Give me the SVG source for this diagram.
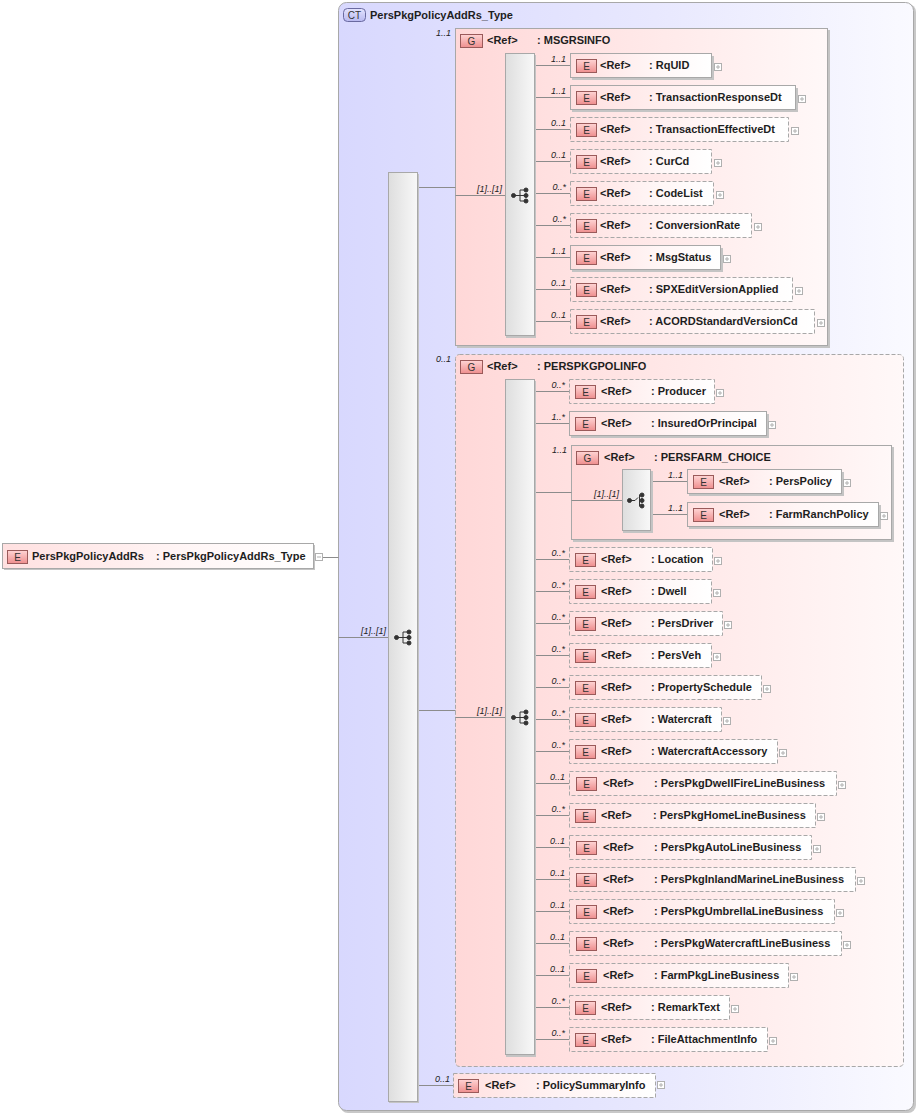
<svg xmlns="http://www.w3.org/2000/svg" width="918" height="1114" viewBox="0 0 918 1114">
<defs>
<linearGradient id="ctG" x1="0" y1="0" x2="1" y2="0"><stop offset="0" stop-color="#d8d8fe"/><stop offset="0.55" stop-color="#e8e8fe"/><stop offset="1" stop-color="#fafaff"/></linearGradient>
<linearGradient id="grpG" x1="0" y1="0" x2="1" y2="0"><stop offset="0" stop-color="#ffd8d8"/><stop offset="1" stop-color="#fff8f8"/></linearGradient>
<linearGradient id="elG" x1="0" y1="0" x2="1" y2="0"><stop offset="0" stop-color="#ffe0e0"/><stop offset="0.6" stop-color="#fff6f6"/><stop offset="1" stop-color="#ffffff"/></linearGradient>
<linearGradient id="barG" x1="0" y1="0" x2="1" y2="0"><stop offset="0" stop-color="#dedede"/><stop offset="1" stop-color="#f8f8f8"/></linearGradient>
<linearGradient id="badgeG" x1="0" y1="0" x2="0" y2="1"><stop offset="0" stop-color="#ffd4d4"/><stop offset="1" stop-color="#ee8e8e"/></linearGradient>
<linearGradient id="ctBadgeG" x1="0" y1="0" x2="0" y2="1"><stop offset="0" stop-color="#e4e4ff"/><stop offset="1" stop-color="#b8b8f0"/></linearGradient>
<g id="seqIcon" fill="#333" stroke="#333" stroke-width="1">
<path d="M-6 0 H0 M0 -5.5 V5.5 M0 -5.5 H6 M0 0 H6 M0 5.5 H6" fill="none"/>
<circle cx="-6.5" cy="0" r="2"/><circle cx="6" cy="-5.5" r="2"/><circle cx="6" cy="0" r="2"/><circle cx="6" cy="5.5" r="2"/>
</g>
<g id="choiceIcon" fill="#333" stroke="#333" stroke-width="1">
<path d="M-6 0 H-1 L2 -3 M3.5 -6 V6" fill="none"/>
<circle cx="-6.5" cy="0" r="2"/><circle cx="6" cy="-5.5" r="2"/><circle cx="6" cy="0" r="2"/><circle cx="6" cy="5.5" r="2"/>
</g>
<g id="plus"><rect x="0" y="0" width="7" height="7" fill="#fff" stroke="#b0b0b0" stroke-width="1"/><path d="M1.5 3.5 H5.5 M3.5 1.5 V5.5" stroke="#b0b0b0" stroke-width="1"/></g>
</defs>
<style>
.t{font-family:"Liberation Sans",Arial,sans-serif;font-size:11px;font-weight:bold;fill:#1e1e1e}
.bt{font-family:"Liberation Sans",Arial,sans-serif;font-size:10px;fill:#333;text-anchor:middle}
.card{font-family:"Liberation Sans",Arial,sans-serif;font-size:9px;font-style:italic;fill:#222;text-anchor:end}
.el{fill:url(#elG);stroke:#a8a8a8;stroke-width:1}
.dash{stroke-dasharray:4 2}
.sh{fill:#c4c4c4}
.badge{fill:url(#badgeG);stroke:#9a5a5a;stroke-width:1}
.grp{fill:url(#grpG);stroke:#a8a8a8;stroke-width:1}
.bar{fill:url(#barG);stroke:#a8a8a8;stroke-width:1}
.ln{stroke:#8c8c8c;stroke-width:1;fill:none}
</style>

<!-- Complex type container -->
<g id="ct-PersPkgPolicyAddRs_Type">
<rect x="340" y="4" width="576" height="1109" rx="8" fill="#c8c8c8"/>
<rect x="338.5" y="2.5" width="575" height="1108" rx="8" fill="url(#ctG)" stroke="#a8a8a8"/>
<rect x="343.5" y="8.5" width="22" height="13" rx="4" fill="url(#ctBadgeG)" stroke="#6a6aa0"/>
<text class="bt" x="354.5" y="19">CT</text>
<text class="t" x="370" y="19">PersPkgPolicyAddRs_Type</text>
</g>

<!-- Group MSGRSINFO -->
<g id="grp-MSGRSINFO">
<rect x="457" y="30" width="373" height="318" class="sh"/>
<rect x="455.5" y="28.5" width="372" height="317" class="grp"/>
<rect x="460.5" y="34.5" width="22" height="13" class="badge"/>
<text class="bt" x="471.5" y="45">G</text>
<text class="t" x="487" y="44">&lt;Ref&gt;</text>
<text class="t" x="537" y="44">: MSGRSINFO</text>
<text class="card" x="451" y="36">1..1</text>
</g>

<!-- Group PERSPKGPOLINFO -->
<g id="grp-PERSPKGPOLINFO">
<rect x="455.5" y="354.5" width="448" height="712" rx="4" class="grp dash"/>
<rect x="460.5" y="360.5" width="22" height="13" class="badge"/>
<text class="bt" x="471.5" y="371">G</text>
<text class="t" x="487" y="370">&lt;Ref&gt;</text>
<text class="t" x="537" y="370">: PERSPKGPOLINFO</text>
<text class="card" x="451" y="362">0..1</text>
</g>

<!-- Group PERSFARM_CHOICE -->
<g id="grp-PERSFARM_CHOICE">
<rect x="573" y="447" width="321" height="95" class="sh"/>
<rect x="571.5" y="445.5" width="320" height="94" class="grp"/>
<rect x="576.5" y="451.5" width="22" height="13" class="badge"/>
<text class="bt" x="587.5" y="462">G</text>
<text class="t" x="604" y="461">&lt;Ref&gt;</text>
<text class="t" x="654" y="461">: PERSFARM_CHOICE</text>
<text class="card" x="567" y="453">1..1</text>
</g>

<!-- Connectors -->
<g id="connectors">
<path class="ln" d="M322.5 557.5 H338.5 M338.5 637.5 H388.5"/>
<path class="ln" d="M418.5 187.5 H455.5 M455.5 195.5 H505.5"/>
<path class="ln" d="M418.5 710.5 H455.5 M455.5 717.5 H505.5"/>
<path class="ln" d="M418.5 1085.5 H453.5"/>
<path class="ln" d="M535.5 65.5 H570 M535.5 97.5 H570 M535.5 129.5 H570 M535.5 161.5 H570 M535.5 193.5 H570 M535.5 225.5 H570 M535.5 257.5 H570 M535.5 289.5 H570 M535.5 321.5 H570"/>
<path class="ln" d="M535.5 391.5 H569 M535.5 423.5 H569 M535.5 492.5 H571.5 M571.5 500.5 H622.5 M535.5 559.5 H569 M535.5 591.5 H569 M535.5 623.5 H569 M535.5 655.5 H569 M535.5 687.5 H569 M535.5 719.5 H569 M535.5 751.5 H569 M535.5 783.5 H569 M535.5 815.5 H569 M535.5 847.5 H569 M535.5 879.5 H569 M535.5 911.5 H569 M535.5 943.5 H569 M535.5 975.5 H569 M535.5 1007.5 H569 M535.5 1039.5 H569"/>
<path class="ln" d="M651.5 481.5 H687 M651.5 514.5 H687"/>
<text class="card" x="386" y="634">[1]..[1]</text>
<text class="card" x="502" y="192">[1]..[1]</text>
<text class="card" x="502" y="714">[1]..[1]</text>
<text class="card" x="619" y="497">[1]..[1]</text>
<text class="card" x="450" y="1082">0..1</text>
</g>

<!-- Sequence / choice compositors -->
<g id="seq-main">
<rect x="389" y="174" width="30" height="929" class="sh"/>
<rect x="388.5" y="172.5" width="29" height="929" class="bar"/>
<use href="#seqIcon" x="403" y="637.5"/>
</g>
<g id="seq-MSGRSINFO">
<rect x="506" y="55" width="30" height="283" class="sh"/>
<rect x="505.5" y="53.5" width="29" height="282" class="bar"/>
<use href="#seqIcon" x="520" y="195.5"/>
</g>
<g id="seq-PERSPKGPOLINFO">
<rect x="506" y="381" width="30" height="676" class="sh"/>
<rect x="505.5" y="379.5" width="29" height="675" class="bar"/>
<use href="#seqIcon" x="520" y="717.5"/>
</g>
<g id="choice-PERSFARM">
<rect x="623" y="471" width="30" height="62" class="sh"/>
<rect x="622.5" y="469.5" width="28" height="61" class="bar"/>
<use href="#choiceIcon" x="636" y="500.5"/>
</g>

<!-- Root element -->
<g id="el-PersPkgPolicyAddRs">
<rect x="4" y="545" width="311" height="25" class="sh"/>
<rect x="2.5" y="543.5" width="311" height="25" class="el"/>
<rect x="7.5" y="550.5" width="20" height="13" class="badge"/>
<text class="bt" x="17.5" y="561">E</text>
<text class="t" x="32" y="560">PersPkgPolicyAddRs</text>
<text class="t" x="156" y="560">: PersPkgPolicyAddRs_Type</text>
<rect x="315.5" y="553.5" width="7" height="7" fill="#fff" stroke="#b0b0b0"/>
<path d="M317 557 H321" stroke="#b0b0b0"/>
</g>

<!-- MSGRSINFO elements -->
<g id="el-RqUID"><rect x="572" y="56" width="142" height="24" class="sh"/><rect x="570.5" y="53.5" width="141" height="24" class="el"/><rect x="576.5" y="59.5" width="20" height="13" class="badge"/><text class="bt" x="586.5" y="70">E</text><text class="t" x="600" y="69">&lt;Ref&gt;</text><text class="t" x="649" y="69">: RqUID</text><use href="#plus" x="714.5" y="63.5"/><text class="card" x="566" y="62">1..1</text></g>
<g id="el-TransactionResponseDt"><rect x="572" y="88" width="226" height="24" class="sh"/><rect x="570.5" y="85.5" width="225" height="24" class="el"/><rect x="576.5" y="91.5" width="20" height="13" class="badge"/><text class="bt" x="586.5" y="102">E</text><text class="t" x="600" y="101">&lt;Ref&gt;</text><text class="t" x="649" y="101">: TransactionResponseDt</text><use href="#plus" x="798.5" y="95.5"/><text class="card" x="566" y="94">1..1</text></g>
<g id="el-TransactionEffectiveDt"><rect x="570.5" y="117.5" width="218" height="24" class="el dash"/><rect x="576.5" y="123.5" width="20" height="13" class="badge"/><text class="bt" x="586.5" y="134">E</text><text class="t" x="600" y="133">&lt;Ref&gt;</text><text class="t" x="649" y="133">: TransactionEffectiveDt</text><use href="#plus" x="791.5" y="127.5"/><text class="card" x="566" y="126">0..1</text></g>
<g id="el-CurCd"><rect x="570.5" y="149.5" width="141" height="24" class="el dash"/><rect x="576.5" y="155.5" width="20" height="13" class="badge"/><text class="bt" x="586.5" y="166">E</text><text class="t" x="600" y="165">&lt;Ref&gt;</text><text class="t" x="649" y="165">: CurCd</text><use href="#plus" x="714.5" y="159.5"/><text class="card" x="566" y="158">0..1</text></g>
<g id="el-CodeList"><rect x="570.5" y="181.5" width="143" height="24" class="el dash"/><rect x="576.5" y="187.5" width="20" height="13" class="badge"/><text class="bt" x="586.5" y="198">E</text><text class="t" x="600" y="197">&lt;Ref&gt;</text><text class="t" x="649" y="197">: CodeList</text><use href="#plus" x="716.5" y="191.5"/><text class="card" x="566" y="190">0..*</text></g>
<g id="el-ConversionRate"><rect x="570.5" y="213.5" width="181" height="24" class="el dash"/><rect x="576.5" y="219.5" width="20" height="13" class="badge"/><text class="bt" x="586.5" y="230">E</text><text class="t" x="600" y="229">&lt;Ref&gt;</text><text class="t" x="649" y="229">: ConversionRate</text><use href="#plus" x="754.5" y="223.5"/><text class="card" x="566" y="222">0..*</text></g>
<g id="el-MsgStatus"><rect x="572" y="248" width="151" height="24" class="sh"/><rect x="570.5" y="245.5" width="150" height="24" class="el"/><rect x="576.5" y="251.5" width="20" height="13" class="badge"/><text class="bt" x="586.5" y="262">E</text><text class="t" x="600" y="261">&lt;Ref&gt;</text><text class="t" x="649" y="261">: MsgStatus</text><use href="#plus" x="723.5" y="255.5"/><text class="card" x="566" y="254">1..1</text></g>
<g id="el-SPXEditVersionApplied"><rect x="570.5" y="277.5" width="222" height="24" class="el dash"/><rect x="576.5" y="283.5" width="20" height="13" class="badge"/><text class="bt" x="586.5" y="294">E</text><text class="t" x="600" y="293">&lt;Ref&gt;</text><text class="t" x="649" y="293">: SPXEditVersionApplied</text><use href="#plus" x="795.5" y="287.5"/><text class="card" x="566" y="286">0..1</text></g>
<g id="el-ACORDStandardVersionCd"><rect x="570.5" y="309.5" width="244" height="24" class="el dash"/><rect x="576.5" y="315.5" width="20" height="13" class="badge"/><text class="bt" x="586.5" y="326">E</text><text class="t" x="600" y="325">&lt;Ref&gt;</text><text class="t" x="649" y="325">: ACORDStandardVersionCd</text><use href="#plus" x="817.5" y="319.5"/><text class="card" x="566" y="318">0..1</text></g>

<!-- PERSPKGPOLINFO elements -->
<g id="el-Producer"><rect x="569.5" y="379.5" width="145" height="24" class="el dash"/><rect x="575.5" y="385.5" width="20" height="13" class="badge"/><text class="bt" x="585.5" y="396">E</text><text class="t" x="601" y="395">&lt;Ref&gt;</text><text class="t" x="651" y="395">: Producer</text><use href="#plus" x="716.5" y="389.5"/><text class="card" x="565" y="388">0..*</text></g>
<g id="el-InsuredOrPrincipal"><rect x="571" y="414" width="198" height="24" class="sh"/><rect x="569.5" y="411.5" width="197" height="24" class="el"/><rect x="575.5" y="417.5" width="20" height="13" class="badge"/><text class="bt" x="585.5" y="428">E</text><text class="t" x="601" y="427">&lt;Ref&gt;</text><text class="t" x="651" y="427">: InsuredOrPrincipal</text><use href="#plus" x="768.5" y="421.5"/><text class="card" x="565" y="420">1..*</text></g>
<g id="el-PersPolicy"><rect x="689" y="472" width="155" height="24" class="sh"/><rect x="687.5" y="469.5" width="154" height="24" class="el"/><rect x="693.5" y="475.5" width="20" height="13" class="badge"/><text class="bt" x="703.5" y="486">E</text><text class="t" x="719" y="485">&lt;Ref&gt;</text><text class="t" x="769" y="485">: PersPolicy</text><use href="#plus" x="843.5" y="479.5"/><text class="card" x="683" y="478">1..1</text></g>
<g id="el-FarmRanchPolicy"><rect x="689" y="505" width="192" height="24" class="sh"/><rect x="687.5" y="502.5" width="191" height="24" class="el"/><rect x="693.5" y="508.5" width="20" height="13" class="badge"/><text class="bt" x="703.5" y="519">E</text><text class="t" x="719" y="518">&lt;Ref&gt;</text><text class="t" x="769" y="518">: FarmRanchPolicy</text><use href="#plus" x="880.5" y="512.5"/><text class="card" x="683" y="511">1..1</text></g>
<g id="el-Location"><rect x="569.5" y="547.5" width="143" height="24" class="el dash"/><rect x="575.5" y="553.5" width="20" height="13" class="badge"/><text class="bt" x="585.5" y="564">E</text><text class="t" x="601" y="563">&lt;Ref&gt;</text><text class="t" x="651" y="563">: Location</text><use href="#plus" x="714.5" y="557.5"/><text class="card" x="565" y="556">0..*</text></g>
<g id="el-Dwell"><rect x="569.5" y="579.5" width="142" height="24" class="el dash"/><rect x="575.5" y="585.5" width="20" height="13" class="badge"/><text class="bt" x="585.5" y="596">E</text><text class="t" x="601" y="595">&lt;Ref&gt;</text><text class="t" x="651" y="595">: Dwell</text><use href="#plus" x="713.5" y="589.5"/><text class="card" x="565" y="588">0..*</text></g>
<g id="el-PersDriver"><rect x="569.5" y="611.5" width="153" height="24" class="el dash"/><rect x="575.5" y="617.5" width="20" height="13" class="badge"/><text class="bt" x="585.5" y="628">E</text><text class="t" x="601" y="627">&lt;Ref&gt;</text><text class="t" x="651" y="627">: PersDriver</text><use href="#plus" x="724.5" y="621.5"/><text class="card" x="565" y="620">0..*</text></g>
<g id="el-PersVeh"><rect x="569.5" y="643.5" width="142" height="24" class="el dash"/><rect x="575.5" y="649.5" width="20" height="13" class="badge"/><text class="bt" x="585.5" y="660">E</text><text class="t" x="601" y="659">&lt;Ref&gt;</text><text class="t" x="651" y="659">: PersVeh</text><use href="#plus" x="713.5" y="653.5"/><text class="card" x="565" y="652">0..*</text></g>
<g id="el-PropertySchedule"><rect x="569.5" y="675.5" width="192" height="24" class="el dash"/><rect x="575.5" y="681.5" width="20" height="13" class="badge"/><text class="bt" x="585.5" y="692">E</text><text class="t" x="601" y="691">&lt;Ref&gt;</text><text class="t" x="651" y="691">: PropertySchedule</text><use href="#plus" x="763.5" y="685.5"/><text class="card" x="565" y="684">0..*</text></g>
<g id="el-Watercraft"><rect x="569.5" y="707.5" width="152" height="24" class="el dash"/><rect x="575.5" y="713.5" width="20" height="13" class="badge"/><text class="bt" x="585.5" y="724">E</text><text class="t" x="601" y="723">&lt;Ref&gt;</text><text class="t" x="651" y="723">: Watercraft</text><use href="#plus" x="723.5" y="717.5"/><text class="card" x="565" y="716">0..*</text></g>
<g id="el-WatercraftAccessory"><rect x="569.5" y="739.5" width="208" height="24" class="el dash"/><rect x="575.5" y="745.5" width="20" height="13" class="badge"/><text class="bt" x="585.5" y="756">E</text><text class="t" x="601" y="755">&lt;Ref&gt;</text><text class="t" x="651" y="755">: WatercraftAccessory</text><use href="#plus" x="779.5" y="749.5"/><text class="card" x="565" y="748">0..*</text></g>
<g id="el-PersPkgDwellFireLineBusiness"><rect x="569.5" y="771.5" width="267" height="24" class="el dash"/><rect x="576.5" y="777.5" width="20" height="13" class="badge"/><text class="bt" x="586.5" y="788">E</text><text class="t" x="603" y="787">&lt;Ref&gt;</text><text class="t" x="654" y="787">: PersPkgDwellFireLineBusiness</text><use href="#plus" x="838.5" y="781.5"/><text class="card" x="565" y="780">0..1</text></g>
<g id="el-PersPkgHomeLineBusiness"><rect x="569.5" y="803.5" width="246" height="24" class="el dash"/><rect x="575.5" y="809.5" width="20" height="13" class="badge"/><text class="bt" x="585.5" y="820">E</text><text class="t" x="601" y="819">&lt;Ref&gt;</text><text class="t" x="653" y="819">: PersPkgHomeLineBusiness</text><use href="#plus" x="817.5" y="813.5"/><text class="card" x="565" y="812">0..*</text></g>
<g id="el-PersPkgAutoLineBusiness"><rect x="569.5" y="835.5" width="242" height="24" class="el dash"/><rect x="576.5" y="841.5" width="20" height="13" class="badge"/><text class="bt" x="586.5" y="852">E</text><text class="t" x="603" y="851">&lt;Ref&gt;</text><text class="t" x="654" y="851">: PersPkgAutoLineBusiness</text><use href="#plus" x="813.5" y="845.5"/><text class="card" x="565" y="844">0..1</text></g>
<g id="el-PersPkgInlandMarineLineBusiness"><rect x="569.5" y="867.5" width="286" height="24" class="el dash"/><rect x="576.5" y="873.5" width="20" height="13" class="badge"/><text class="bt" x="586.5" y="884">E</text><text class="t" x="603" y="883">&lt;Ref&gt;</text><text class="t" x="654" y="883">: PersPkgInlandMarineLineBusiness</text><use href="#plus" x="857.5" y="877.5"/><text class="card" x="565" y="876">0..1</text></g>
<g id="el-PersPkgUmbrellaLineBusiness"><rect x="569.5" y="899.5" width="265" height="24" class="el dash"/><rect x="576.5" y="905.5" width="20" height="13" class="badge"/><text class="bt" x="586.5" y="916">E</text><text class="t" x="603" y="915">&lt;Ref&gt;</text><text class="t" x="654" y="915">: PersPkgUmbrellaLineBusiness</text><use href="#plus" x="836.5" y="909.5"/><text class="card" x="565" y="908">0..1</text></g>
<g id="el-PersPkgWatercraftLineBusiness"><rect x="569.5" y="931.5" width="272" height="24" class="el dash"/><rect x="576.5" y="937.5" width="20" height="13" class="badge"/><text class="bt" x="586.5" y="948">E</text><text class="t" x="603" y="947">&lt;Ref&gt;</text><text class="t" x="654" y="947">: PersPkgWatercraftLineBusiness</text><use href="#plus" x="843.5" y="941.5"/><text class="card" x="565" y="940">0..1</text></g>
<g id="el-FarmPkgLineBusiness"><rect x="569.5" y="963.5" width="219" height="24" class="el dash"/><rect x="576.5" y="969.5" width="20" height="13" class="badge"/><text class="bt" x="586.5" y="980">E</text><text class="t" x="603" y="979">&lt;Ref&gt;</text><text class="t" x="654" y="979">: FarmPkgLineBusiness</text><use href="#plus" x="790.5" y="973.5"/><text class="card" x="565" y="972">0..1</text></g>
<g id="el-RemarkText"><rect x="569.5" y="995.5" width="160" height="24" class="el dash"/><rect x="575.5" y="1001.5" width="20" height="13" class="badge"/><text class="bt" x="585.5" y="1012">E</text><text class="t" x="601" y="1011">&lt;Ref&gt;</text><text class="t" x="651" y="1011">: RemarkText</text><use href="#plus" x="731.5" y="1005.5"/><text class="card" x="565" y="1004">0..*</text></g>
<g id="el-FileAttachmentInfo"><rect x="569.5" y="1027.5" width="198" height="24" class="el dash"/><rect x="575.5" y="1033.5" width="20" height="13" class="badge"/><text class="bt" x="585.5" y="1044">E</text><text class="t" x="601" y="1043">&lt;Ref&gt;</text><text class="t" x="651" y="1043">: FileAttachmentInfo</text><use href="#plus" x="769.5" y="1037.5"/><text class="card" x="565" y="1036">0..*</text></g>

<!-- PolicySummaryInfo -->
<g id="el-PolicySummaryInfo"><rect x="453.5" y="1073.5" width="202" height="24" class="el dash"/><rect x="458.5" y="1079.5" width="20" height="13" class="badge"/><text class="bt" x="468.5" y="1090">E</text><text class="t" x="485" y="1089">&lt;Ref&gt;</text><text class="t" x="536" y="1089">: PolicySummaryInfo</text><use href="#plus" x="657.5" y="1081.5"/></g>
</svg>
